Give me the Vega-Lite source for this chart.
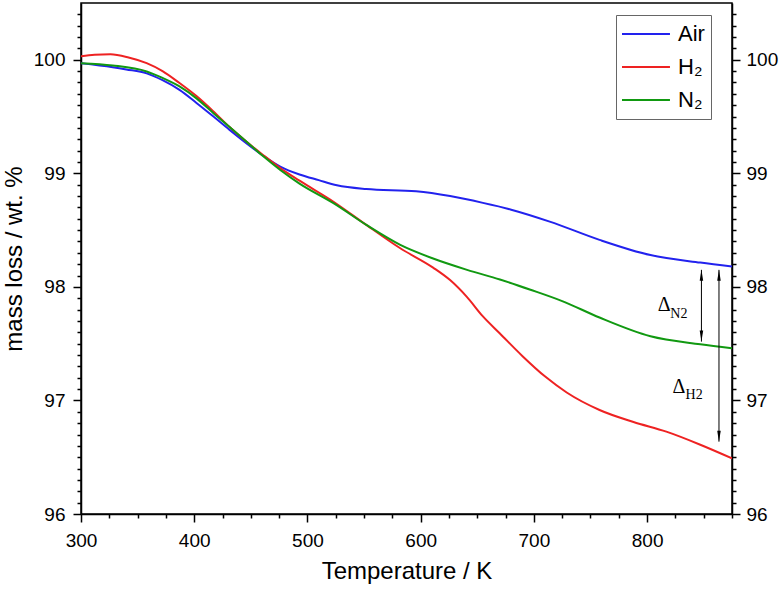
{
  "$schema": "https://vega.github.io/schema/vega-lite/v6.json",
  "width": 651,
  "height": 511,
  "autosize": {"type": "none"},
  "padding": {"left": 81, "top": 3, "right": 52, "bottom": 78},
  "background": "white",
  "config": {
    "font": "Liberation Sans",
    "view": {"stroke": "black", "strokeWidth": 1.5},
    "axis": {
      "domainColor": "black",
      "domainWidth": 1.5,
      "tickColor": "black",
      "tickWidth": 1.5,
      "labelColor": "black",
      "titleColor": "black",
      "labelFont": "Liberation Sans",
      "titleFont": "Liberation Sans",
      "labelFontSize": 19,
      "titleFontSize": 24,
      "titleFontWeight": "normal",
      "grid": false
    },
    "legend": {
      "labelFont": "Liberation Sans",
      "labelFontSize": 22,
      "labelColor": "black"
    }
  },
  "datasets": {
    "curves": [
      {"T": 300, "v": 99.97, "gas": "Air"},
      {"T": 328, "v": 99.935, "gas": "Air"},
      {"T": 340, "v": 99.915, "gas": "Air"},
      {"T": 358, "v": 99.88, "gas": "Air"},
      {"T": 372, "v": 99.82, "gas": "Air"},
      {"T": 387, "v": 99.735, "gas": "Air"},
      {"T": 402, "v": 99.62, "gas": "Air"},
      {"T": 417, "v": 99.5, "gas": "Air"},
      {"T": 431, "v": 99.385, "gas": "Air"},
      {"T": 446, "v": 99.266, "gas": "Air"},
      {"T": 461, "v": 99.155, "gas": "Air"},
      {"T": 476, "v": 99.06, "gas": "Air"},
      {"T": 493, "v": 98.99, "gas": "Air"},
      {"T": 510, "v": 98.94, "gas": "Air"},
      {"T": 526, "v": 98.895, "gas": "Air"},
      {"T": 552, "v": 98.862, "gas": "Air"},
      {"T": 596, "v": 98.842, "gas": "Air"},
      {"T": 626, "v": 98.8, "gas": "Air"},
      {"T": 655, "v": 98.74, "gas": "Air"},
      {"T": 680, "v": 98.68, "gas": "Air"},
      {"T": 714, "v": 98.575, "gas": "Air"},
      {"T": 758, "v": 98.414, "gas": "Air"},
      {"T": 803, "v": 98.28, "gas": "Air"},
      {"T": 847, "v": 98.214, "gas": "Air"},
      {"T": 875, "v": 98.18, "gas": "Air"},
      {"T": 300, "v": 100.03, "gas": "H₂"},
      {"T": 312, "v": 100.045, "gas": "H₂"},
      {"T": 326, "v": 100.048, "gas": "H₂"},
      {"T": 342, "v": 100.02, "gas": "H₂"},
      {"T": 358, "v": 99.97, "gas": "H₂"},
      {"T": 372, "v": 99.9, "gas": "H₂"},
      {"T": 387, "v": 99.795, "gas": "H₂"},
      {"T": 402, "v": 99.68, "gas": "H₂"},
      {"T": 417, "v": 99.545, "gas": "H₂"},
      {"T": 431, "v": 99.41, "gas": "H₂"},
      {"T": 446, "v": 99.28, "gas": "H₂"},
      {"T": 461, "v": 99.16, "gas": "H₂"},
      {"T": 476, "v": 99.046, "gas": "H₂"},
      {"T": 493, "v": 98.935, "gas": "H₂"},
      {"T": 523, "v": 98.75, "gas": "H₂"},
      {"T": 552, "v": 98.546, "gas": "H₂"},
      {"T": 582, "v": 98.34, "gas": "H₂"},
      {"T": 611, "v": 98.17, "gas": "H₂"},
      {"T": 626, "v": 98.06, "gas": "H₂"},
      {"T": 641, "v": 97.91, "gas": "H₂"},
      {"T": 655, "v": 97.74, "gas": "H₂"},
      {"T": 670, "v": 97.59, "gas": "H₂"},
      {"T": 690, "v": 97.39, "gas": "H₂"},
      {"T": 710, "v": 97.21, "gas": "H₂"},
      {"T": 729, "v": 97.07, "gas": "H₂"},
      {"T": 758, "v": 96.916, "gas": "H₂"},
      {"T": 788, "v": 96.81, "gas": "H₂"},
      {"T": 817, "v": 96.725, "gas": "H₂"},
      {"T": 847, "v": 96.61, "gas": "H₂"},
      {"T": 875, "v": 96.49, "gas": "H₂"},
      {"T": 300, "v": 99.97, "gas": "N₂"},
      {"T": 328, "v": 99.95, "gas": "N₂"},
      {"T": 358, "v": 99.897, "gas": "N₂"},
      {"T": 372, "v": 99.84, "gas": "N₂"},
      {"T": 387, "v": 99.765, "gas": "N₂"},
      {"T": 402, "v": 99.66, "gas": "N₂"},
      {"T": 417, "v": 99.53, "gas": "N₂"},
      {"T": 431, "v": 99.41, "gas": "N₂"},
      {"T": 446, "v": 99.28, "gas": "N₂"},
      {"T": 461, "v": 99.15, "gas": "N₂"},
      {"T": 476, "v": 99.03, "gas": "N₂"},
      {"T": 493, "v": 98.91, "gas": "N₂"},
      {"T": 523, "v": 98.737, "gas": "N₂"},
      {"T": 552, "v": 98.546, "gas": "N₂"},
      {"T": 582, "v": 98.37, "gas": "N₂"},
      {"T": 611, "v": 98.25, "gas": "N₂"},
      {"T": 641, "v": 98.15, "gas": "N₂"},
      {"T": 670, "v": 98.065, "gas": "N₂"},
      {"T": 697, "v": 97.975, "gas": "N₂"},
      {"T": 725, "v": 97.875, "gas": "N₂"},
      {"T": 758, "v": 97.73, "gas": "N₂"},
      {"T": 803, "v": 97.565, "gas": "N₂"},
      {"T": 847, "v": 97.495, "gas": "N₂"},
      {"T": 875, "v": 97.46, "gas": "N₂"}
    ],
    "arrows": [
      {"T": 848, "top": 98.15, "bottom": 97.518},
      {"T": 863.5, "top": 98.15, "bottom": 96.637}
    ],
    "bigText": [
      {"T": 809.5, "v": 97.84, "txt": "Δ"},
      {"T": 822.5, "v": 97.12, "txt": "Δ"}
    ],
    "smallText": [
      {"T": 820.5, "v": 97.76, "txt": "N2"},
      {"T": 834, "v": 97.045, "txt": "H2"}
    ]
  },
  "resolve": {"axis": {"x": "independent", "y": "independent"}},
  "layer": [
    {
      "data": {"name": "curves"},
      "mark": {"type": "line", "strokeWidth": 2, "interpolate": "monotone", "clip": true},
      "encoding": {
        "x": {
          "field": "T", "type": "quantitative",
          "scale": {"domain": [300, 875], "nice": false, "zero": false},
          "axis": {
            "orient": "bottom",
            "title": "Temperature / K",
            "values": [300, 325, 350, 375, 400, 425, 450, 475, 500, 525, 550, 575, 600, 625, 650, 675, 700, 725, 750, 775, 800, 825, 850, 875],
            "labelExpr": "datum.value % 100 === 0 && datum.value < 875 ? datum.label : ''",
            "tickSize": {"condition": {"test": "datum.value % 100 === 0", "value": 8}, "value": 4},
            "labelPadding": 9,
            "titlePadding": 9,
            "labelFlush": false,
            "labelOverlap": false
          }
        },
        "y": {
          "field": "v", "type": "quantitative",
          "scale": {"domain": [96, 100.5], "nice": false, "zero": false},
          "axis": {
            "orient": "left",
            "title": "mass loss / wt. %",
            "values": [96, 96.1, 96.2, 96.3, 96.4, 96.5, 96.6, 96.7, 96.8, 96.9, 97, 97.1, 97.2, 97.3, 97.4, 97.5, 97.6, 97.7, 97.8, 97.9, 98, 98.1, 98.2, 98.3, 98.4, 98.5, 98.6, 98.7, 98.8, 98.9, 99, 99.1, 99.2, 99.3, 99.4, 99.5, 99.6, 99.7, 99.8, 99.9, 100, 100.1, 100.2, 100.3, 100.4],
            "labelExpr": "abs(datum.value - round(datum.value)) < 0.01 ? format(datum.value, 'd') : ''",
            "tickSize": {"condition": {"test": "abs(datum.value - round(datum.value)) < 0.01", "value": 8}, "value": 4},
            "labelPadding": 8,
            "titlePadding": 7,
            "labelFlush": false,
            "labelOverlap": false
          }
        },
        "color": {
          "field": "gas", "type": "nominal",
          "scale": {"domain": ["Air", "H₂", "N₂"], "range": ["#2222ee", "#ee2222", "#119911"]},
          "legend": {
            "title": null,
            "orient": "none",
            "legendX": 535,
            "legendY": 12,
            "symbolType": "stroke",
            "symbolSize": 2800,
            "symbolStrokeWidth": 2,
            "clipHeight": 26,
            "strokeColor": "#666666",
            "padding": 6,
            "rowPadding": 7,
            "labelOffset": 7,
            "symbolOffset": -6
          }
        }
      }
    },
    {
      "data": {"name": "arrows"},
      "mark": {"type": "rule", "color": "black", "strokeWidth": 1},
      "encoding": {
        "x": {"field": "T", "type": "quantitative", "axis": null},
        "y": {
          "field": "top", "type": "quantitative",
          "axis": {
            "orient": "right",
            "title": null,
            "values": [96, 96.1, 96.2, 96.3, 96.4, 96.5, 96.6, 96.7, 96.8, 96.9, 97, 97.1, 97.2, 97.3, 97.4, 97.5, 97.6, 97.7, 97.8, 97.9, 98, 98.1, 98.2, 98.3, 98.4, 98.5, 98.6, 98.7, 98.8, 98.9, 99, 99.1, 99.2, 99.3, 99.4, 99.5, 99.6, 99.7, 99.8, 99.9, 100, 100.1, 100.2, 100.3, 100.4],
            "labelExpr": "abs(datum.value - round(datum.value)) < 0.01 ? format(datum.value, 'd') : ''",
            "tickSize": {"condition": {"test": "abs(datum.value - round(datum.value)) < 0.01", "value": 8}, "value": 4},
            "labelPadding": 6,
            "labelFlush": false,
            "labelOverlap": false
          }
        },
        "y2": {"field": "bottom"}
      }
    },
    {
      "data": {"name": "arrows"},
      "mark": {"type": "point", "shape": "M0,0L0.32,2L-0.32,2Z", "filled": true, "color": "black", "size": 121, "opacity": 1},
      "encoding": {
        "x": {"field": "T", "type": "quantitative", "axis": null},
        "y": {"field": "top", "type": "quantitative", "axis": null}
      }
    },
    {
      "data": {"name": "arrows"},
      "mark": {"type": "point", "shape": "M0,0L0.32,-2L-0.32,-2Z", "filled": true, "color": "black", "size": 121, "opacity": 1},
      "encoding": {
        "x": {"field": "T", "type": "quantitative", "axis": null},
        "y": {"field": "bottom", "type": "quantitative", "axis": null}
      }
    },
    {
      "data": {"name": "bigText"},
      "mark": {"type": "text", "font": "Liberation Serif", "fontSize": 20, "align": "left", "baseline": "middle", "color": "black"},
      "encoding": {
        "x": {"field": "T", "type": "quantitative", "axis": null},
        "y": {"field": "v", "type": "quantitative", "axis": null},
        "text": {"field": "txt"}
      }
    },
    {
      "data": {"name": "smallText"},
      "mark": {"type": "text", "font": "Liberation Serif", "fontSize": 14, "align": "left", "baseline": "middle", "color": "black"},
      "encoding": {
        "x": {"field": "T", "type": "quantitative", "axis": null},
        "y": {"field": "v", "type": "quantitative", "axis": null},
        "text": {"field": "txt"}
      }
    }
  ]
}
